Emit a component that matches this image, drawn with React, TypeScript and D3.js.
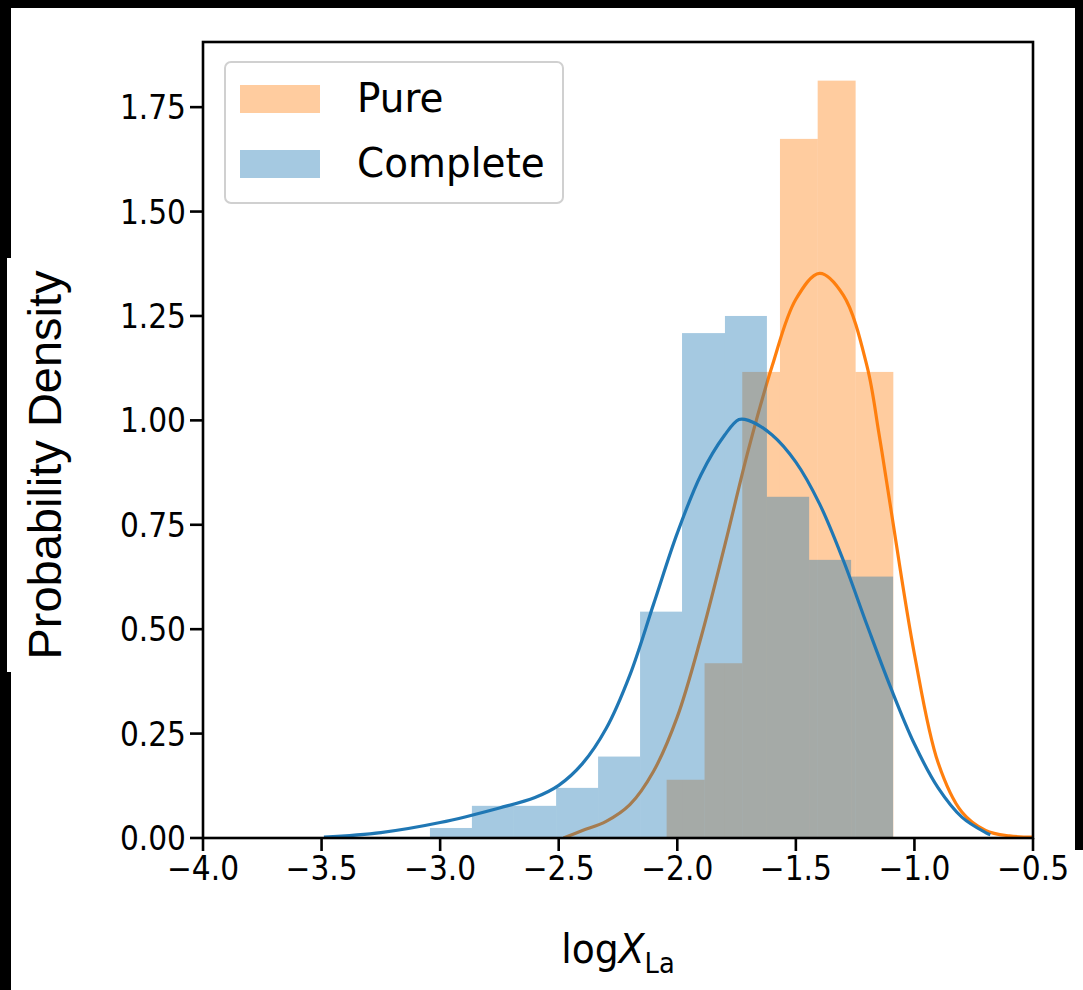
import React from "react";
import * as d3 from "d3";

// ---- data ----
const xTicks = [-4.0, -3.5, -3.0, -2.5, -2.0, -1.5, -1.0, -0.5];
const yTicks = [0, 0.25, 0.5, 0.75, 1.0, 1.25, 1.5, 1.75];

// Pure histogram (density)
const pureEdges = [-2.045, -1.885, -1.726, -1.567, -1.408, -1.248, -1.089];
const pureValues = [0.1395, 0.4185, 1.116, 1.674, 1.8135, 1.116];

// Complete histogram (density)
const completeEdges = [-3.043, -2.866, -2.689, -2.511, -2.334, -2.157, -1.98, -1.799, -1.622, -1.444, -1.267, -1.09];
const completeValues = [0.024, 0.077, 0.077, 0.12, 0.195, 0.542, 1.209, 1.25, 0.817, 0.666, 0.626];

// KDE curves
const pureKdeX = [-2.48, -2.4, -2.3, -2.2, -2.1, -2.0, -1.9, -1.8, -1.7, -1.6, -1.5, -1.4, -1.3, -1.2, -1.15, -1.1, -1.0, -0.9, -0.8, -0.7, -0.6, -0.5];
const pureKdeY = [0.0, 0.018, 0.04, 0.08, 0.16, 0.29, 0.48, 0.7, 0.93, 1.13, 1.29, 1.352, 1.3, 1.13, 0.97, 0.79, 0.44, 0.18, 0.062, 0.018, 0.005, 0.002];

const completeKdeX = [-3.49, -3.25, -3.0, -2.75, -2.6, -2.5, -2.4, -2.3, -2.2, -2.1, -2.0, -1.9, -1.8, -1.74, -1.7, -1.6, -1.5, -1.4, -1.3, -1.2, -1.1, -1.0, -0.9, -0.8, -0.7, -0.68];
const completeKdeY = [0.002, 0.013, 0.037, 0.072, 0.097, 0.126, 0.178, 0.262, 0.39, 0.56, 0.73, 0.87, 0.965, 1.002, 1.0, 0.965, 0.9, 0.8, 0.665, 0.51, 0.36, 0.225, 0.12, 0.05, 0.013, 0.008];

const seriesNames = ["Pure", "Complete"];
const ORANGE = "#ff7f0e";
const BLUE = "#1f77b4";

const W = 1083;
const H = 990;
const left = 203, right = 1033, top = 42, bottom = 838;

export default function App() {
  const x = d3.scaleLinear().domain([-4, -0.5]).range([left, right]);
  const y = d3.scaleLinear().domain([0, 1.906]).range([bottom, top]);

  const line = d3
    .line<[number, number]>()
    .x((d) => x(d[0]))
    .y((d) => y(d[1]))
    .curve(d3.curveCatmullRom.alpha(0.5));

  const purePts = pureKdeX.map((v, i) => [v, pureKdeY[i]] as [number, number]);
  const compPts = completeKdeX.map((v, i) => [v, completeKdeY[i]] as [number, number]);

  const fmtX = (v: number) => v.toFixed(1).replace("-", "\u2212");
  const fmtY = (v: number) => v.toFixed(2);

  const tickFont = 33;
  const sx = 0.9;

  return (
    <svg width={W} height={H} style={{ position: "absolute", left: 0, top: 0, background: "#fff" }}>
      <rect x={0} y={0} width={W} height={H} fill="#fff" />
      <defs>
        <clipPath id="plotclip">
          <rect x={left} y={top} width={right - left} height={bottom - top} />
        </clipPath>
      </defs>

      <g clipPath="url(#plotclip)">
        {pureValues.map((v, i) => (
          <rect
            key={"p" + i}
            x={x(pureEdges[i])}
            y={y(v)}
            width={x(pureEdges[i + 1]) - x(pureEdges[i])}
            height={y(0) - y(v)}
            fill={ORANGE}
            fillOpacity={0.4}
          />
        ))}
        <path d={line(purePts) || ""} fill="none" stroke={ORANGE} strokeWidth={3.2} />
        {completeValues.map((v, i) => (
          <rect
            key={"c" + i}
            x={x(completeEdges[i])}
            y={y(v)}
            width={x(completeEdges[i + 1]) - x(completeEdges[i])}
            height={y(0) - y(v)}
            fill={BLUE}
            fillOpacity={0.4}
          />
        ))}
        <path d={line(compPts) || ""} fill="none" stroke={BLUE} strokeWidth={3.2} />
      </g>

      {/* spines */}
      <rect x={left} y={top} width={right - left} height={bottom - top} fill="none" stroke="#000" strokeWidth={2.6} />

      {/* x ticks */}
      {xTicks.map((t) => (
        <g key={"xt" + t}>
          <line x1={x(t)} x2={x(t)} y1={bottom} y2={bottom + 13} stroke="#000" strokeWidth={2.6} />
          <text
            transform={`translate(${x(t)},${bottom + 42}) scale(${sx},1)`}
            textAnchor="middle"
            fontFamily="DejaVu Sans"
            fontSize={tickFont}
            fill="#000"
          >
            {fmtX(t)}
          </text>
        </g>
      ))}

      {/* y ticks */}
      {yTicks.map((t) => (
        <g key={"yt" + t}>
          <line x1={left - 13} x2={left} y1={y(t)} y2={y(t)} stroke="#000" strokeWidth={2.6} />
          <text
            transform={`translate(${left - 17},${y(t) + 12}) scale(${sx},1)`}
            textAnchor="end"
            fontFamily="DejaVu Sans"
            fontSize={tickFont}
            fill="#000"
          >
            {fmtY(t)}
          </text>
        </g>
      ))}

      {/* x label */}
      <text
        transform={`translate(${(left + right) / 2},963) scale(0.92,1)`}
        textAnchor="middle"
        fontFamily="DejaVu Sans"
        fontSize={41}
        fill="#000"
      >
        log<tspan fontStyle="italic">X</tspan>
        <tspan fontSize={28} dy={10}>La</tspan>
      </text>

      {/* legend */}
      <g>
        <rect x={225} y={62} width={338} height={141} rx={6} fill="#fff" fillOpacity={0.8} stroke="#d0d0d0" strokeWidth={2} />
        {seriesNames.map((name, i) => (
          <g key={name}>
            <rect x={240} y={85 + i * 65} width={80} height={28} fill={i === 0 ? ORANGE : BLUE} fillOpacity={0.4} />
            <text
              transform={`translate(357,${112 + i * 65}) scale(0.95,1)`}
              fontFamily="DejaVu Sans"
              fontSize={41}
              fill="#000"
            >
              {name}
            </text>
          </g>
        ))}
      </g>

      {/* screenshot frame artifacts */}
      <rect x={0} y={0} width={W} height={8} fill="#000" />
      <rect x={0} y={0} width={11} height={258} fill="#000" />
      <rect x={0} y={258} width={7} height={H - 258} fill="#000" />
      <rect x={0} y={672} width={11} height={H - 672} fill="#000" />
      <rect x={1075} y={0} width={8} height={850} fill="#000" />

      {/* y label patch */}
      <rect x={7} y={258} width={60} height={414} fill="#fff" />
      <text
        transform={`translate(61,465) rotate(-90)`}
        textAnchor="middle"
        fontFamily="Liberation Sans"
        fontSize={47}
        fill="#000"
      >
        Probability Density
      </text>
    </svg>
  );
}
